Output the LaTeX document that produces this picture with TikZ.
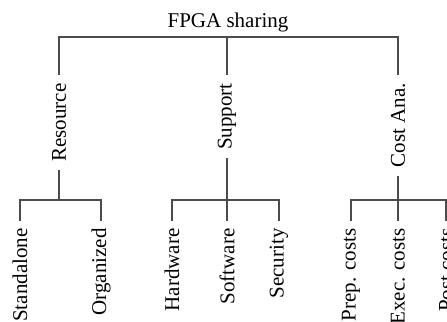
\documentclass[tikz,border=0pt]{standalone}
\usepackage{fontspec}
\setmainfont{Liberation Serif}
\usetikzlibrary{positioning}

\begin{document}
\begin{tikzpicture}[x=0.5pt, y=-0.5pt,
    root/.style={inner sep=0pt, font=\fontsize{10.5}{12}\selectfont},
    group/.style={rotate=90, anchor=east, inner xsep=4pt, inner ysep=0pt, font=\fontsize{10.5}{12}\selectfont},
    leaf/.style={rotate=90, anchor=east, inner xsep=3.5pt, inner ysep=0pt, font=\fontsize{10.5}{12}\selectfont},
    branch/.style={draw=black!70, line width=0.8pt}]

\useasboundingbox (0,0) rectangle (447,322);
\clip (0,0) rectangle (447,322);

% Root
\node[root, anchor=base] (fpga) at (228,27) {FPGA sharing};
\coordinate (fpga_bar) at (227,37);

% First level
\node[group] (resource) at (59,75) {Resource};
\node[group] (support) at (227,75) {Support};
\node[group] (cost) at (398,75) {Cost Ana.};

% Second level (Resource)
\node[leaf] (standalone) at (20,221) {Standalone};
\node[leaf] (organized) at (101,221) {Organized};

% Second level (Support)
\node[leaf] (hardware) at (172,221) {Hardware};
\node[leaf] (software) at (227,221) {Software};
\node[leaf] (security) at (279,221) {Security};

% Second level (Cost Ana.)
\node[leaf] (prep) at (351,221) {Prep. costs};
\node[leaf] (exec) at (398,221) {Exec. costs};
\node[leaf] (post) at (446,221) {Post costs};

% Branches
\coordinate (resource_bar) at (59,200);
\coordinate (support_bar) at (227,200);
\coordinate (cost_bar) at (398,200);

\draw[branch] (resource.east) |- (fpga_bar) -| (cost.east);
\draw[branch] (support.east) -- (fpga_bar);

\draw[branch] (resource.west) -- (resource_bar);
\draw[branch] (standalone.east) |- (resource_bar) -| (organized.east);

\draw[branch] (support.west) -- (support_bar);
\draw[branch] (hardware.east) |- (support_bar) -| (security.east);
\draw[branch] (software.east) -- (support_bar);

\draw[branch] (cost.west) -- (cost_bar);
\draw[branch] (prep.east) |- (cost_bar) -| (post.east);
\draw[branch] (exec.east) -- (cost_bar);

\end{tikzpicture}
\end{document}
